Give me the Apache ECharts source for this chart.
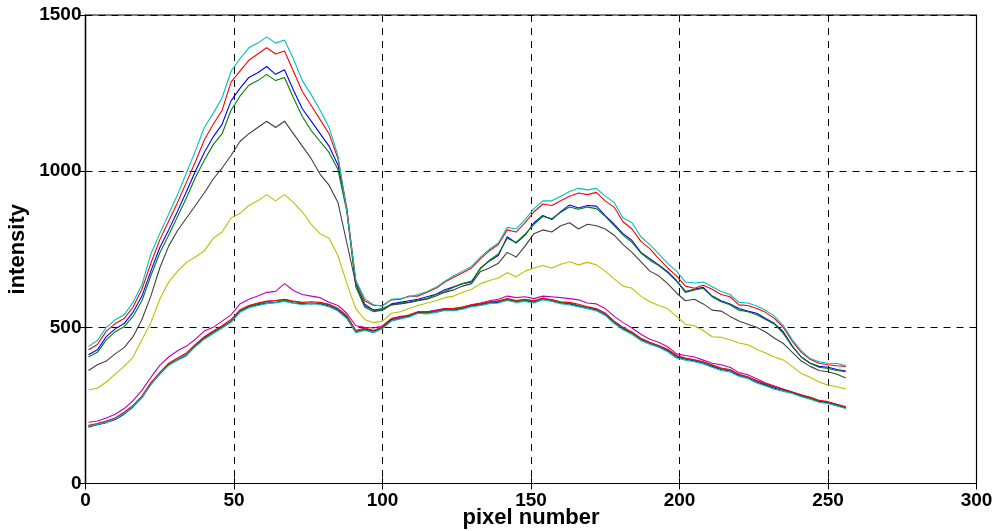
<!DOCTYPE html>
<html><head><meta charset="utf-8">
<script src="https://cdn.jsdelivr.net/npm/echarts@6/dist/echarts.min.js"></script>
<style>html,body{margin:0;padding:0;background:#fff}#c{width:997px;height:531px}</style>
</head><body><div id="c"></div>
<script>
const pixelNumbers = [1,4,7,10,13,16,19,22,25,28,31,34,37,40,43,46,49,52,55,58,61,64,67,70,73,76,79,82,85,88,91,94,97,100,103,106,109,112,115,118,121,124,127,130,133,136,139,142,145,148,151,154,157,160,163,166,169,172,175,178,181,184,187,190,193,196,199,202,205,208,211,214,217,220,223,226,229,232,235,238,241,244,247,250,253,256];

const upperBlue = [412,428,470,495,512,548,600,680,755,812,872,935,1000,1060,1110,1150,1225,1265,1300,1315,1335,1310,1325,1260,1200,1160,1120,1080,1020,875,640,570,555,555,575,580,585,590,598,606,620,630,640,645,690,712,730,790,770,795,835,858,845,870,892,882,890,888,858,830,800,778,740,720,700,678,650,615,622,628,600,585,575,560,552,545,528,512,485,440,405,385,375,372,365,360];
const upperGreen = [405,420,460,486,502,535,585,665,738,795,855,915,980,1035,1085,1120,1195,1240,1275,1290,1310,1290,1300,1235,1175,1130,1095,1060,1005,870,630,565,550,555,572,578,580,588,592,605,615,628,640,648,688,715,735,785,772,798,830,855,848,868,885,878,885,880,855,826,795,772,738,715,698,675,648,612,620,625,598,582,572,555,550,540,525,510,480,438,405,385,372,368,362,358];
const upperRed = [428,445,488,512,528,565,622,705,780,840,900,965,1030,1100,1150,1195,1285,1320,1355,1375,1395,1375,1385,1320,1255,1210,1165,1120,1040,880,650,585,570,570,588,590,600,600,612,625,645,660,675,690,720,745,765,812,805,835,870,895,890,905,920,930,925,932,905,885,838,815,775,752,720,690,665,632,625,635,622,605,598,572,570,560,548,528,500,455,420,398,385,380,377,375];
const upperCyan = [439,458,500,524,540,580,636,735,800,862,925,995,1065,1140,1185,1235,1320,1360,1395,1410,1430,1410,1420,1360,1290,1245,1195,1140,1050,870,650,592,572,568,590,592,598,605,615,628,648,665,680,695,725,750,770,820,815,845,880,905,905,920,935,945,940,945,920,900,850,835,790,765,735,705,680,645,642,645,630,615,605,580,578,568,555,535,505,460,425,400,390,385,384,378];
const upperYellow = [300,305,325,350,375,405,460,515,590,645,680,708,725,745,785,805,850,865,890,905,925,905,925,900,870,830,800,785,730,640,560,525,515,520,545,550,560,570,578,585,595,600,612,622,640,650,658,675,662,680,690,698,690,702,710,700,708,700,680,655,632,625,600,582,570,560,535,510,505,490,470,468,460,450,444,430,418,405,395,375,352,340,325,315,310,303];
const upperBlack = [362,380,392,415,435,470,525,600,690,760,810,850,890,930,975,1010,1050,1095,1120,1140,1160,1140,1160,1120,1080,1040,990,955,900,770,640,575,555,560,572,575,580,585,590,600,612,620,632,640,679,690,705,740,725,760,800,812,805,825,835,815,830,825,815,795,765,740,710,680,665,640,610,585,590,575,555,552,535,520,510,500,485,465,448,420,392,375,362,358,350,338];
const lowerMagenta = [196,200,210,222,240,265,298,340,378,405,425,440,462,488,500,520,540,575,590,600,612,615,640,618,605,600,595,580,570,545,505,500,498,505,528,535,538,550,550,555,560,560,565,572,578,585,590,600,595,598,592,600,598,595,592,588,578,575,560,535,515,498,478,462,452,438,415,410,405,395,385,380,372,355,348,335,322,312,302,292,282,275,265,260,252,244];
const lowerBlue = [183,188,195,205,222,245,275,318,350,380,395,410,440,465,482,500,520,550,565,572,578,580,585,578,575,578,575,568,555,530,485,495,488,500,525,530,535,548,545,550,556,555,560,568,572,578,580,590,582,585,580,592,585,578,575,568,562,555,540,515,495,480,460,448,438,425,405,398,392,385,375,365,360,345,338,325,315,305,298,290,280,272,262,258,250,242];
const lowerGreen = [180,190,198,208,225,248,278,320,355,382,398,415,442,468,485,503,518,552,568,575,582,585,588,582,578,575,578,572,558,535,488,492,485,498,522,528,538,545,548,548,558,558,562,570,575,580,584,588,585,588,584,590,588,580,578,570,565,558,545,518,498,482,462,450,440,428,408,400,395,388,378,368,362,348,340,328,318,308,300,292,283,275,265,260,252,244];
const lowerRed = [186,192,200,210,228,250,280,322,355,385,402,418,445,470,488,505,525,556,570,578,584,586,590,584,580,582,580,574,560,538,490,498,490,502,528,532,540,550,550,552,560,560,565,572,576,582,585,592,586,590,585,594,588,582,580,574,566,560,545,520,500,485,465,452,442,430,410,402,396,390,380,370,365,350,342,330,320,310,302,293,284,276,266,262,254,246];
const lowerCyan = [185,189,196,207,224,247,276,316,352,378,396,412,438,462,480,498,516,548,563,570,576,579,583,577,573,576,573,566,552,528,483,490,483,496,520,527,533,545,543,548,554,553,558,566,570,576,578,586,580,583,578,588,583,576,572,566,560,553,538,512,492,478,458,446,436,422,402,395,390,383,372,362,357,343,336,322,312,302,295,288,278,270,260,256,248,240];

const seriesDefs = [
  ['upperBlue', upperBlue, '#0000ff'],
  ['upperGreen', upperGreen, '#008000'],
  ['upperRed', upperRed, '#ff0000'],
  ['upperCyan', upperCyan, '#00bfbf'],
  ['lowerMagenta', lowerMagenta, '#bf00bf'],
  ['upperYellow', upperYellow, '#bfbf00'],
  ['upperBlack', upperBlack, '#404040'],
  ['lowerBlue', lowerBlue, '#0000ff'],
  ['lowerGreen', lowerGreen, '#008000'],
  ['lowerRed', lowerRed, '#ff0000'],
  ['lowerCyan', lowerCyan, '#00bfbf']
];

const FONT = '"Liberation Sans", Arial, Helvetica, sans-serif';
const chart = echarts.init(document.getElementById('c'), null, {renderer: 'canvas'});
const tickStyle = {color: '#000', fontFamily: FONT, fontWeight: 'bold', fontSize: 19};
const nameStyle = {color: '#000', fontFamily: FONT, fontWeight: 'bold', fontSize: 22};
chart.setOption({
  animation: false,
  backgroundColor: '#fff',
  grid: {left: 85.5, right: 20.5, top: 15, bottom: 47.5, show: true, borderColor: '#000', borderWidth: 1.2,
         containLabel: false, outerBoundsMode: 'none'},
  xAxis: [{
    type: 'value', min: 0, max: 300, interval: 50,
    name: 'pixel number', nameLocation: 'middle', nameGap: 23, nameMoveOverlap: false,
    nameTextStyle: nameStyle,
    axisLine: {show: true, lineStyle: {color: '#000', width: 1.2}},
    axisTick: {show: true, inside: true, length: 6, lineStyle: {color: '#000'}},
    axisLabel: Object.assign({margin: 8, formatter: v => String(v)}, tickStyle),
    splitLine: {show: true, lineStyle: {color: '#000', type: [7, 6], width: 1}}
  }, {
    type: 'value', min: 0, max: 300, interval: 50, position: 'top',
    axisLine: {show: true, lineStyle: {color: '#000', width: 1.2}},
    axisTick: {show: true, inside: true, length: 6, lineStyle: {color: '#000'}},
    axisLabel: {show: false}, splitLine: {show: false}
  }],
  yAxis: [{
    type: 'value', min: 0, max: 1500, interval: 500,
    name: 'intensity', nameLocation: 'middle', nameGap: 57, nameRotate: 90, nameMoveOverlap: false,
    nameTextStyle: nameStyle,
    axisLine: {show: true, lineStyle: {color: '#000', width: 1.2}},
    axisTick: {show: true, inside: true, length: 6, lineStyle: {color: '#000'}},
    axisLabel: Object.assign({margin: 4, formatter: v => String(v)}, tickStyle),
    splitLine: {show: true, lineStyle: {color: '#000', type: [7, 6], width: 1}}
  }, {
    type: 'value', min: 0, max: 1500, interval: 500, position: 'right',
    axisLine: {show: true, lineStyle: {color: '#000', width: 1.2}},
    axisTick: {show: true, inside: true, length: 6, lineStyle: {color: '#000'}},
    axisLabel: {show: false}, splitLine: {show: false}
  }],
  series: seriesDefs.map(([name, vals, color]) => ({
    name, type: 'line', symbol: 'none', smooth: false,
    xAxisIndex: 0, yAxisIndex: 0,
    lineStyle: {color, width: 1.1},
    data: pixelNumbers.map((x, i) => [x, vals[i]])
  }))
});
</script></body></html>
